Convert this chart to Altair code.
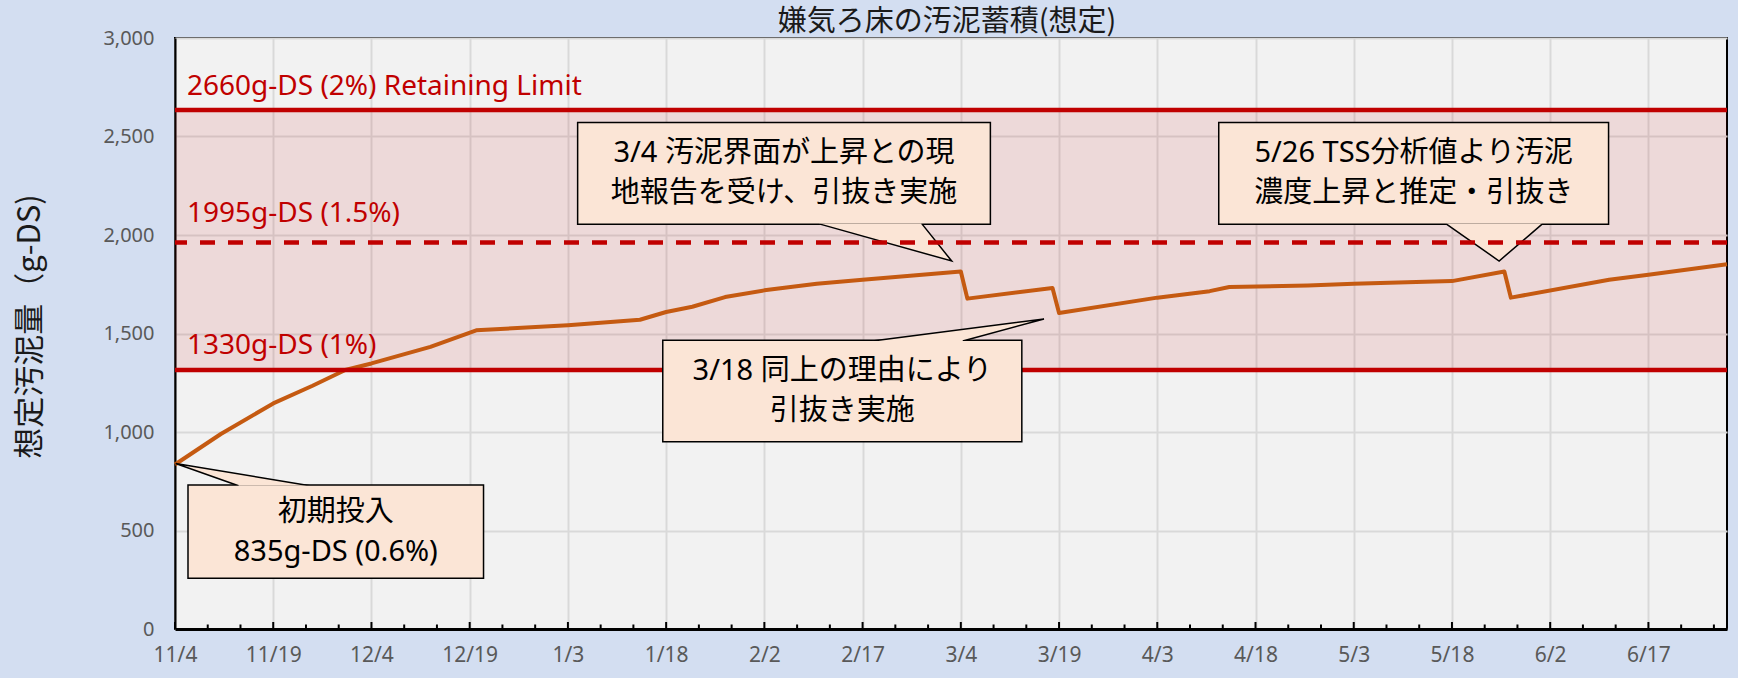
import altair as alt
import pandas as pd

# ---------------- data ----------------
DATES = ["2022-11-04", "2022-11-11", "2022-11-19", "2022-11-25", "2022-11-30",
         "2022-12-04", "2022-12-13", "2022-12-20", "2023-01-03", "2023-01-14",
         "2023-01-18", "2023-01-22", "2023-01-27", "2023-02-02", "2023-02-10",
         "2023-02-17", "2023-03-04", "2023-03-05", "2023-03-18", "2023-03-19",
         "2023-04-03", "2023-04-11", "2023-04-14", "2023-04-26", "2023-05-03",
         "2023-05-18", "2023-05-26", "2023-05-27", "2023-06-11", "2023-06-17",
         "2023-06-29"]
VALUES = [835, 990, 1145, 1235, 1315, 1348, 1432, 1516, 1542, 1570,
          1609, 1636, 1685, 1719, 1753, 1773, 1815, 1677, 1731, 1604,
          1682, 1715, 1736, 1744, 1753, 1766, 1815, 1682, 1773, 1798,
          1851]

LIMIT_VALUES = [1315, 1962, 2634]
LIMIT_LABELS = ["1330g-DS (1%)", "1995g-DS (1.5%)", "2660g-DS (2%) Retaining Limit"]
LIMIT_DASHED = [False, True, False]

START = "2022-11-04"
END = "2023-06-29"
MAJOR_TICKS = ["2022-11-04", "2022-11-19", "2022-12-04", "2022-12-19", "2023-01-03",
               "2023-01-18", "2023-02-02", "2023-02-17", "2023-03-04", "2023-03-19",
               "2023-04-03", "2023-04-18", "2023-05-03", "2023-05-18", "2023-06-02",
               "2023-06-17"]
Y_TICKS = [0, 500, 1000, 1500, 2000, 2500, 3000]

TITLE = "嫌気ろ床の汚泥蓄積(想定)"
Y_TITLE = "想定汚泥量（g-DS)"

CALLOUT_TEXT = ["初期投入\n835g-DS (0.6%)",
                "3/4 汚泥界面が上昇との現\n地報告を受け、引抜き実施",
                "3/18 同上の理由により\n引抜き実施",
                "5/26 TSS分析値より汚泥\n濃度上昇と推定・引抜き"]
# callout anchors (days after START, g-DS)
BOX_DAY0 = [2.1, 61.6, 74.6, 159.5]
BOX_DAY1 = [47.0, 124.4, 129.2, 218.8]
BOX_TOP = [727, 2567, 1462, 2567]
BOX_BOTTOM = [262, 2059, 954, 2059]
TAIL_BASE_DAY0 = [9.7, 98.1, 106.5, 194.0]
TAIL_BASE_DAY1 = [20.6, 114.0, 120.3, 208.9]
TAIL_BASE_VALUE = [727, 2059, 1462, 2059]
TIP_DAY = [0.1, 118.6, 132.7, 202.2]
TIP_VALUE = [840, 1868, 1574, 1868]

# ---------------- helpers ----------------
DAY_MS = 86400000


def to_ms(s):
    return int((pd.Timestamp(s) - pd.Timestamp("1970-01-01")) / pd.Timedelta(milliseconds=1))


start_ms = to_ms(START)
end_ms = to_ms(END)


def day_ms(d):
    return int(round(start_ms + d * DAY_MS))


W, H = 1552, 591
CJK = "'Noto Sans', 'Noto Sans CJK JP'"
ORANGE = "#C55A11"
RED = "#C00000"
PEACH = "#FBE5D6"

major_ms = [to_ms(d) for d in MAJOR_TICKS]
minor_ms = [to_ms(d) for d in pd.date_range(START, END, freq="5D").strftime("%Y-%m-%d")
            if to_ms(d) not in major_ms]

line_df = pd.DataFrame({"t": [to_ms(d) for d in DATES], "v": VALUES})
limits_df = pd.DataFrame({"v": LIMIT_VALUES, "label": LIMIT_LABELS, "dashed": LIMIT_DASHED})
band_df = pd.DataFrame({"lo": [min(LIMIT_VALUES)], "hi": [max(LIMIT_VALUES)]})

box_df = pd.DataFrame({
    "x0": [day_ms(d) for d in BOX_DAY0],
    "x1": [day_ms(d) for d in BOX_DAY1],
    "top": BOX_TOP, "bottom": BOX_BOTTOM, "text": CALLOUT_TEXT,
})
box_df["cx"] = ((box_df["x0"] + box_df["x1"]) / 2).round().astype("int64")
box_df["cy"] = (box_df["top"] + box_df["bottom"]) / 2

tail_rows = []
for i in range(len(CALLOUT_TEXT)):
    tail_rows += [
        {"id": i, "seq": 0, "x": day_ms(TAIL_BASE_DAY0[i]), "y": TAIL_BASE_VALUE[i]},
        {"id": i, "seq": 1, "x": day_ms(TIP_DAY[i]), "y": TIP_VALUE[i]},
        {"id": i, "seq": 2, "x": day_ms(TAIL_BASE_DAY1[i]), "y": TAIL_BASE_VALUE[i]},
    ]
tail_df = pd.DataFrame(tail_rows)

ticks_df = pd.DataFrame({"t": major_ms + minor_ms,
                         "major": [True] * len(major_ms) + [False] * len(minor_ms)})
title_df = pd.DataFrame({"title": [TITLE]})

# ---------------- scales & axes ----------------
xs = alt.Scale(type="utc", domain=[start_ms, end_ms], nice=False)
ys = alt.Scale(domain=[0, 3000], nice=False)

x_axis = alt.Axis(values=major_ms, labelExpr="utcFormat(datum.value, '%-m/%-d')", grid=True,
                  gridColor="#D9D9D9", gridWidth=2, ticks=False, domain=True,
                  domainColor="black", domainWidth=3, labelFont="Noto Sans",
                  labelFontSize=21, labelColor="#595959", labelPadding=15,
                  labelOverlap=False, labelFlush=False, title=None)
y_axis = alt.Axis(values=Y_TICKS, labelExpr="format(datum.value, ',.0f')", grid=True,
                  gridColor="#D9D9D9", gridWidth=2,
                  ticks=False, domain=True, domainColor="black", domainWidth=2,
                  labelFont="Noto Sans", labelFontSize=20, labelColor="#595959",
                  labelPadding=21, title=Y_TITLE, titleFont="Noto Sans CJK JP",
                  titleFontSize=31, titleFontWeight="normal", titleColor="#1a1a1a",
                  titleAngle=270, titleX=-145, titleY=288, titleAlign="center",
                  titleBaseline="middle")


def X(field):
    return alt.X(field, scale=xs, axis=x_axis)


def Y(field):
    return alt.Y(field, scale=ys, axis=y_axis)


# ---------------- layers ----------------
line = alt.Chart(line_df).mark_line(color=ORANGE, strokeWidth=4, strokeJoin="round").encode(
    x=X("t:T"), y=Y("v:Q"))

band = alt.Chart(band_df).mark_rect(color=RED, opacity=0.1).encode(y=Y("lo:Q"), y2="hi:Q")

solid_rules = alt.Chart(limits_df).transform_filter("!datum.dashed").mark_rule(
    color=RED, strokeWidth=4.5).encode(y=Y("v:Q"))
dashed_rule = alt.Chart(limits_df).transform_filter("datum.dashed").mark_rule(
    color=RED, strokeWidth=4.5, strokeDash=[15, 13]).encode(y=Y("v:Q"))

major_ticks = alt.Chart(ticks_df).transform_filter("datum.major").mark_rule(
    color="black", strokeWidth=2).encode(x=X("t:T"), y=alt.value(H), y2=alt.value(H - 7))
minor_ticks = alt.Chart(ticks_df).transform_filter("!datum.major").mark_rule(
    color="black", strokeWidth=2).encode(x=X("t:T"), y=alt.value(H), y2=alt.value(H - 4.5))

box_enc = dict(x=X("x0:T"), x2="x1:T", y=Y("top:Q"), y2="bottom:Q")
box_stroke = alt.Chart(box_df).mark_rect(fill=PEACH, stroke="black", strokeWidth=3).encode(**box_enc)
box_fill = alt.Chart(box_df).mark_rect(fill=PEACH, strokeWidth=0).encode(**box_enc)

tail = alt.Chart(tail_df).mark_line(filled=True, fill=PEACH, stroke="black", strokeWidth=1.5).encode(
    x=X("x:T"), y=Y("y:Q"), detail="id:N", order="seq:Q")

box_text = alt.Chart(box_df).mark_text(lineBreak="\n", fontSize=29, lineHeight=40, font=CJK,
                                       color="black", align="center", baseline="middle",
                                       dy=-20).encode(
    x=X("cx:T"), y=Y("cy:Q"), text="text:N")

label_layers = []
for i, dy in zip(range(len(LIMIT_LABELS)), [-16, -20, -15]):
    label_layers.append(
        alt.Chart(limits_df.iloc[[i]]).mark_text(
            align="left", baseline="alphabetic", dy=dy, fontSize=28, font="Noto Sans",
            color=RED).encode(x=alt.value(12), y=Y("v:Q"), text="label:N"))

title = alt.Chart(title_df).mark_text(
    fontSize=29, font="Noto Sans CJK JP", color="#1a1a1a", align="center",
    baseline="alphabetic").encode(x=alt.value(W / 2 - 4), y=alt.value(-7), text="title:N")

chart = alt.layer(
    band, line, solid_rules, major_ticks, minor_ticks,
    box_stroke, tail, box_fill, dashed_rule, box_text, *label_layers, title
).properties(
    width=W, height=H,
    autosize=alt.AutoSizeParams(type="none"),
    padding={"left": 175, "top": 38, "right": 11, "bottom": 49},
    background="#D3DEF1",
).configure_view(fill="#F2F2F2", stroke="black", strokeWidth=2)

chart.save("out.html", embed_options={"renderer": "svg", "actions": False})
